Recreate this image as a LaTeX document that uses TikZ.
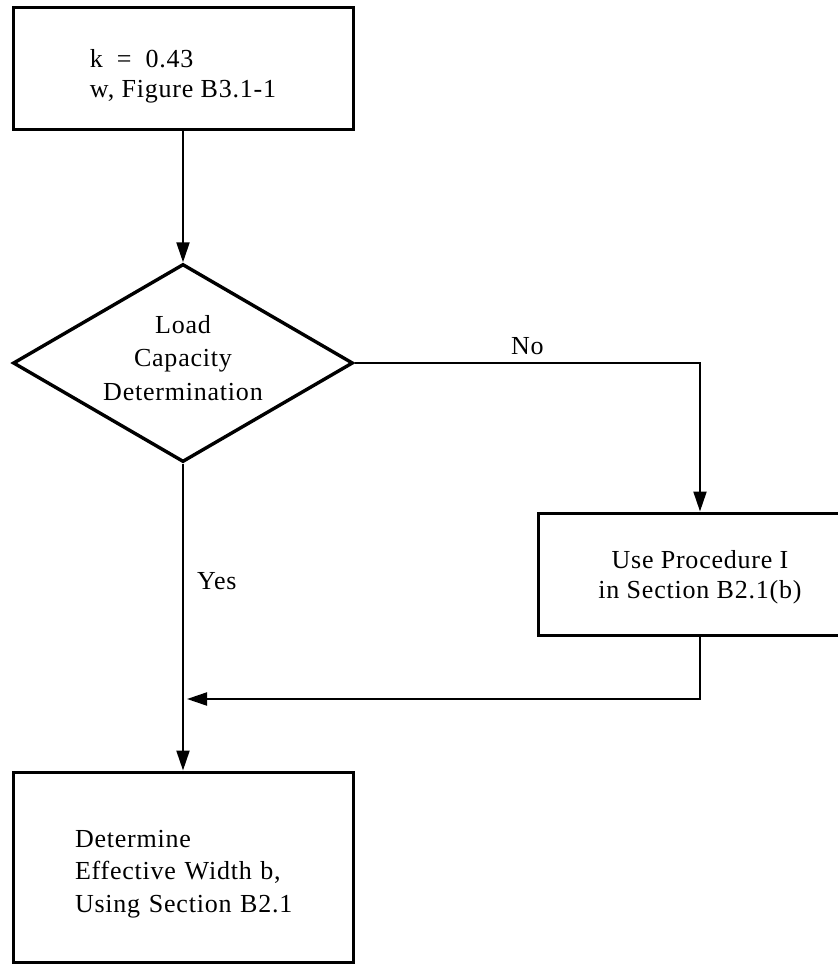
\documentclass[tikz,border=0pt]{standalone}
\usepackage{fontspec}
\setmainfont[LetterSpace=3]{Liberation Serif}
\usetikzlibrary{shapes.geometric,arrows.meta}
\begin{document}
\begin{tikzpicture}[x=1pt,y=-1pt,
  every node/.style={font=\fontsize{26}{30}\selectfont},
  box/.style={draw, line width=3pt, rectangle, inner sep=0pt},
  decision/.style={draw, line width=3.4pt, diamond, aspect=1.72, inner sep=0pt,
    minimum width=340pt, minimum height=198pt, align=center,
    font=\fontsize{26}{33.5}\selectfont},
  flow/.style={line width=2.1pt, -{Triangle[length=20pt,width=13pt]}},
  tag/.style={inner sep=0pt}
]
\useasboundingbox (0,0) rectangle (838,964);

% process boxes and the decision
\node[box, align=left, minimum width=340pt, minimum height=122pt] (start) at (183,68)
  {\rule{0pt}{35.6pt}k\hspace{14pt}=\hspace{14pt}0.43\\w, Figure B3.1-1};
\node[decision] (dec) at (183,363)
  {Load\\Capacity\\Determination\rule[-10.8pt]{0pt}{10.8pt}};
\node[box, align=center, minimum width=324pt, minimum height=122pt] (proc) at (700,574)
  {\rule{0pt}{23.6pt}Use Procedure I\\in Section B2.1(b)};
\node[box, align=left, text width=216pt, minimum width=340pt, minimum height=190pt,
  font=\fontsize{26}{32.5}\selectfont] (width) at (183,867)
  {\rule{0pt}{30.6pt}Determine\\Effective Width b,\\Using Section B2.1};

% point where the side branch rejoins the main line
\coordinate (merge) at (183,699);

% connectors
\draw[flow] (start.south) -- (dec.north);
\draw[flow] (dec.east) -| node[pos=0.25, above, inner sep=7pt] (no) {No} (proc.north);
\draw[flow] (dec.south) -- node[pos=0.382, anchor=west, tag, xshift=13pt] (yes) {Yes} (width.north);
\draw[flow, shorten >=4pt] (proc.south) |- (merge);
\end{tikzpicture}
\end{document}
